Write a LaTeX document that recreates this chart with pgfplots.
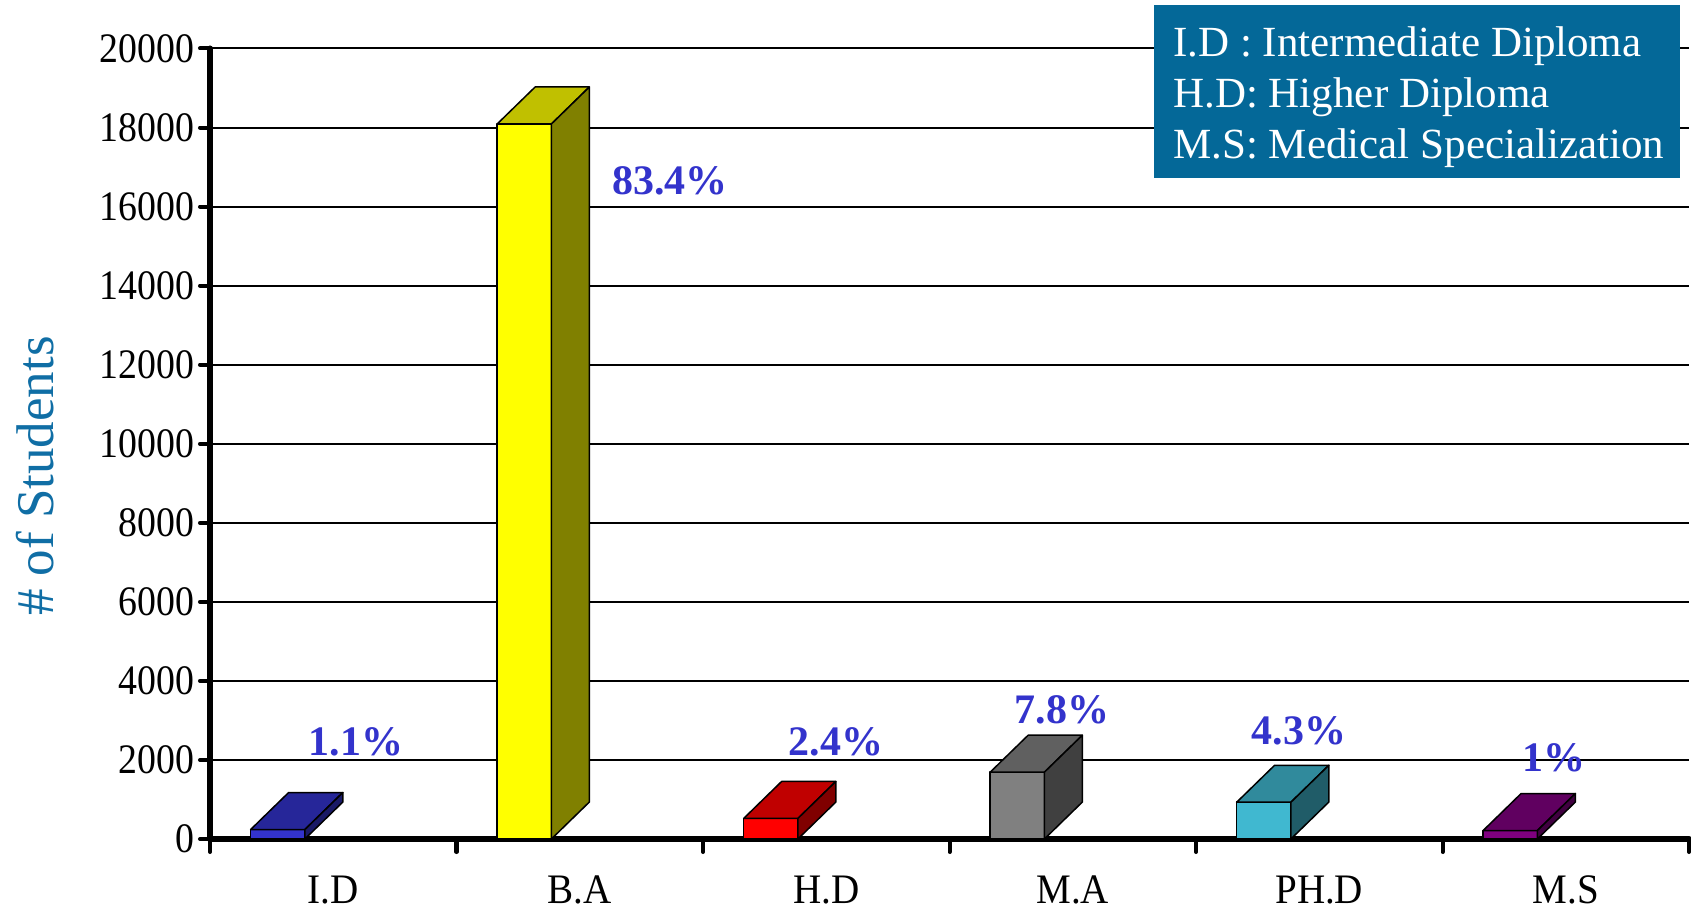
\documentclass[border=0pt]{standalone}
\usepackage{fontspec}
\setmainfont{Liberation Serif}
\newfontfamily\ytfont{Liberation Serif}[FakeStretch=0.9]
\newfontfamily\xtfont{Liberation Serif}[FakeStretch=0.93]
\usepackage{pgfplots}
\pgfplotsset{compat=1.18}
\definecolor{legbox}{RGB}{4,104,152}
\definecolor{ylab}{RGB}{16,110,165}
\definecolor{pct}{RGB}{51,51,204}
\definecolor{fA}{RGB}{51,51,204}\definecolor{tA}{RGB}{38,38,153}\definecolor{sA}{RGB}{26,26,102}
\definecolor{fB}{RGB}{255,255,0}\definecolor{tB}{RGB}{192,192,0}\definecolor{sB}{RGB}{128,128,0}
\definecolor{fC}{RGB}{255,0,0}\definecolor{tC}{RGB}{192,0,0}\definecolor{sC}{RGB}{128,0,0}
\definecolor{fD}{RGB}{128,128,128}\definecolor{tD}{RGB}{96,96,96}\definecolor{sD}{RGB}{64,64,64}
\definecolor{fE}{RGB}{64,184,208}\definecolor{tE}{RGB}{48,138,156}\definecolor{sE}{RGB}{32,92,104}
\definecolor{fF}{RGB}{128,0,128}\definecolor{tF}{RGB}{96,0,96}\definecolor{sF}{RGB}{64,0,64}
\begin{document}
\begin{tikzpicture}
\begin{axis}[
  at={(0,0)}, anchor=south west,
  scale only axis, width=739.5pt, height=395.25pt,
  xmin=0, xmax=6, ymin=0, ymax=20000,
  axis x line*=bottom, axis y line*=left,
  axis line style={-, line width=3pt, line cap=round},
  xtick={0.5,1.5,2.5,3.5,4.5,5.5},
  xticklabels={I.D,B.A,H.D,M.A,PH.D,M.S},
  minor xtick={0,1,2,3,4,5,6},
  ytick={0,2000,...,20000},
  tick align=outside,
  major tick length=5pt, minor tick length=6.5pt,
  every tick/.style={black, line width=2pt, line cap=round},
  major x tick style={draw=none},
  ymajorgrids, grid style={black, line width=1pt},
  xticklabel style={font=\xtfont\fontsize{21}{24}\selectfont, yshift=-10pt},
  yticklabel style={font=\ytfont\fontsize{21}{24}\selectfont, xshift=0.5pt},
  /pgf/number format/assume math mode=true,
  /pgf/number format/1000 sep={},
  scaled y ticks=false,
  clip=false,
  face/.style={draw=black, line width=0.75pt, line join=round, mark=none},
]
% I.D  (240)
\addplot[face, fill=fA] coordinates {(0.165,0) (0.385,0) (0.385,240) (0.165,240)} -- cycle;
\addplot[face, fill=tA] coordinates {(0.165,240) (0.385,240) (0.539,1176) (0.319,1176)} -- cycle;
\addplot[face, fill=sA] coordinates {(0.385,0) (0.539,936) (0.539,1176) (0.385,240)} -- cycle;
% B.A  (18090)
\addplot[face, fill=fB] coordinates {(1.165,0) (1.385,0) (1.385,18090) (1.165,18090)} -- cycle;
\addplot[face, fill=tB] coordinates {(1.165,18090) (1.385,18090) (1.539,19026) (1.319,19026)} -- cycle;
\addplot[face, fill=sB] coordinates {(1.385,0) (1.539,936) (1.539,19026) (1.385,18090)} -- cycle;
% H.D  (520)
\addplot[face, fill=fC] coordinates {(2.165,0) (2.385,0) (2.385,520) (2.165,520)} -- cycle;
\addplot[face, fill=tC] coordinates {(2.165,520) (2.385,520) (2.539,1456) (2.319,1456)} -- cycle;
\addplot[face, fill=sC] coordinates {(2.385,0) (2.539,936) (2.539,1456) (2.385,520)} -- cycle;
% M.A  (1690)
\addplot[face, fill=fD] coordinates {(3.165,0) (3.385,0) (3.385,1690) (3.165,1690)} -- cycle;
\addplot[face, fill=tD] coordinates {(3.165,1690) (3.385,1690) (3.539,2626) (3.319,2626)} -- cycle;
\addplot[face, fill=sD] coordinates {(3.385,0) (3.539,936) (3.539,2626) (3.385,1690)} -- cycle;
% PH.D (930)
\addplot[face, fill=fE] coordinates {(4.165,0) (4.385,0) (4.385,930) (4.165,930)} -- cycle;
\addplot[face, fill=tE] coordinates {(4.165,930) (4.385,930) (4.539,1866) (4.319,1866)} -- cycle;
\addplot[face, fill=sE] coordinates {(4.385,0) (4.539,936) (4.539,1866) (4.385,930)} -- cycle;
% M.S  (215)
\addplot[face, fill=fF] coordinates {(5.165,0) (5.385,0) (5.385,215) (5.165,215)} -- cycle;
\addplot[face, fill=tF] coordinates {(5.165,215) (5.385,215) (5.539,1151) (5.319,1151)} -- cycle;
\addplot[face, fill=sF] coordinates {(5.385,0) (5.539,936) (5.539,1151) (5.385,215)} -- cycle;
% percentage labels
\begin{scope}[every node/.style={text=pct, font=\bfseries\fontsize{21}{24}\selectfont}]
\node at (axis cs:0.592,2454) {1.1\%};
\node at (axis cs:1.866,16648) {83.4\%};
\node at (axis cs:2.540,2454) {2.4\%};
\node at (axis cs:3.457,3264) {7.8\%};
\node at (axis cs:4.418,2732) {4.3\%};
\node at (axis cs:5.452,2049) {1\%};
\end{scope}
\end{axis}
\node[rotate=90, text=ylab, font=\fontsize{26.5}{29}\selectfont] at (-87.5pt,181.5pt) {\# of Students};
\fill[legbox] (472pt,330.5pt) rectangle (735pt,417pt);
\begin{scope}[every node/.style={anchor=base west, inner sep=0pt, text=white, font=\fontsize{21.5}{25}\selectfont}]
\node at (481.5pt,391pt) {I.D : Intermediate Diploma};
\node at (481.5pt,365.5pt) {H.D: Higher Diploma};
\node at (481.5pt,340.25pt) {M.S: Medical Specialization};
\end{scope}
\pgfresetboundingbox
\path (-105pt,-36pt) rectangle (740.5pt,419.5pt);
\end{tikzpicture}
\end{document}
